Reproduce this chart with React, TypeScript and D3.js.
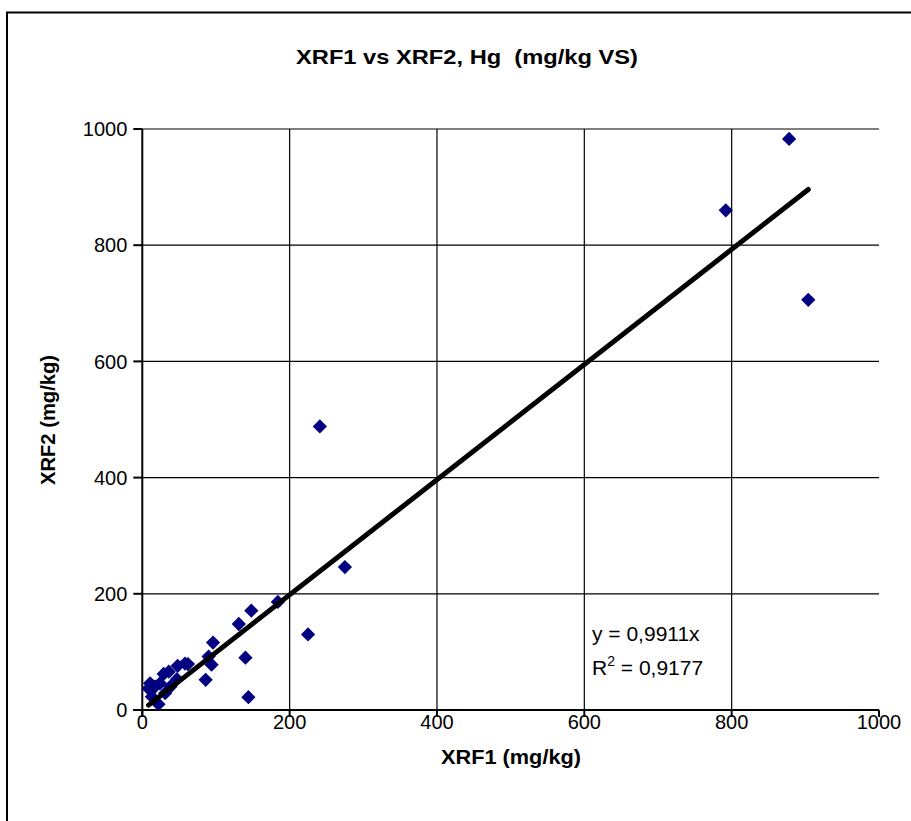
import React from "react";
import * as d3 from "d3";

const xrf1: number[] = [878, 792, 904, 241, 275, 225, 184, 148, 131, 96, 90, 94, 86, 140, 144, 58, 48, 36, 29, 10.6, 8.5, 17, 24, 38, 31, 13, 22, 47, 62];
const xrf2: number[] = [983, 860, 706, 488, 246, 130, 186, 171, 148, 116, 92, 78, 52, 90, 22, 80, 76, 66, 62, 46, 37, 40, 46, 40, 29, 23, 10, 53, 79];
const xTicks: number[] = [0, 200, 400, 600, 800, 1000];
const yTicks: number[] = [0, 200, 400, 600, 800, 1000];
const slope = 0.9911;
const title = "XRF1 vs XRF2, Hg  (mg/kg VS)";
const xLabel = "XRF1 (mg/kg)";
const yLabel = "XRF2 (mg/kg)";
const eqText = "y = 0,9911x";
const r2Value = " = 0,9177";

const W = 911;
const H = 821;
const plot = { left: 142.3, right: 879, top: 129, bottom: 710 };
const font = "'Liberation Sans', Arial, sans-serif";

export default function App() {
  const x = d3.scaleLinear().domain([0, 1000]).range([plot.left, plot.right]);
  const y = d3.scaleLinear().domain([0, 1000]).range([plot.bottom, plot.top]);
  const xMin = d3.min(xrf1) as number;
  const xMax = d3.max(xrf1) as number;
  const trend = d3.line<number>().x((d) => x(d)).y((d) => y(d * slope))([xMin, xMax]) as string;
  const diamond = d3.symbol().type(d3.symbolDiamond2).size(130)() as string;

  return (
    <svg width={W} height={H} style={{ position: "absolute", left: 0, top: 0, background: "#fff" }}>
      <rect x={0} y={0} width={W} height={H} fill="#fff" />
      <rect x={7} y={12.5} width={W} height={H} fill="none" stroke="#000" strokeWidth={2} />
      <text x={467} y={64} textAnchor="middle" fontFamily={font} fontWeight="bold" fontSize={21} textLength={342} lengthAdjust="spacingAndGlyphs" style={{ whiteSpace: "pre" }}>
        {title}
      </text>
      {/* gridlines */}
      {yTicks.filter((t) => t > 0).map((t) => (
        <line key={"gy" + t} x1={plot.left} x2={plot.right} y1={y(t)} y2={y(t)} stroke="#000" strokeWidth={1.2} />
      ))}
      {xTicks.filter((t) => t > 0 && t < 1000).map((t) => (
        <line key={"gx" + t} x1={x(t)} x2={x(t)} y1={plot.top} y2={plot.bottom} stroke="#000" strokeWidth={1.2} />
      ))}
      {/* axes */}
      <line x1={plot.left} x2={plot.left} y1={plot.top} y2={plot.bottom + 7} stroke="#000" strokeWidth={2} />
      <line x1={plot.left - 9} x2={plot.right} y1={plot.bottom} y2={plot.bottom} stroke="#000" strokeWidth={2} />
      {yTicks.map((t) => (
        <line key={"ty" + t} x1={plot.left - 9} x2={plot.left} y1={y(t)} y2={y(t)} stroke="#000" strokeWidth={2} />
      ))}
      {xTicks.map((t) => (
        <line key={"tx" + t} x1={x(t)} x2={x(t)} y1={plot.bottom} y2={plot.bottom + 7} stroke="#000" strokeWidth={2} />
      ))}
      {yTicks.map((t) => (
        <text key={"ly" + t} x={plot.left - 15} y={y(t)} dy="0.36em" textAnchor="end" fontFamily={font} fontSize={20}>
          {t}
        </text>
      ))}
      {xTicks.map((t) => (
        <text key={"lx" + t} x={x(t)} y={722} dy="0.36em" textAnchor="middle" fontFamily={font} fontSize={20}>
          {t}
        </text>
      ))}
      <text x={511} y={764} textAnchor="middle" fontFamily={font} fontWeight="bold" fontSize={21} textLength={140} lengthAdjust="spacingAndGlyphs">
        {xLabel}
      </text>
      <text transform={`translate(55,420) rotate(-90)`} textAnchor="middle" fontFamily={font} fontWeight="bold" fontSize={20} textLength={130} lengthAdjust="spacingAndGlyphs">
        {yLabel}
      </text>
      {/* points */}
      {xrf1.map((v, i) => (
        <path key={"p" + i} d={diamond} transform={`translate(${x(v)},${y(xrf2[i])})`} fill="#000080" />
      ))}
      {/* trendline */}
      <path d={trend} stroke="#000" strokeWidth={5} fill="none" strokeLinecap="round" />
      {/* equation */}
      <text x={592} y={641} fontFamily={font} fontSize={21}>
        {eqText}
      </text>
      <text x={592} y={675} fontFamily={font} fontSize={21}>
        R<tspan dy={-9} fontSize={14}>2</tspan>
        <tspan dy={9} style={{ whiteSpace: "pre" }}>{r2Value}</tspan>
      </text>
    </svg>
  );
}
